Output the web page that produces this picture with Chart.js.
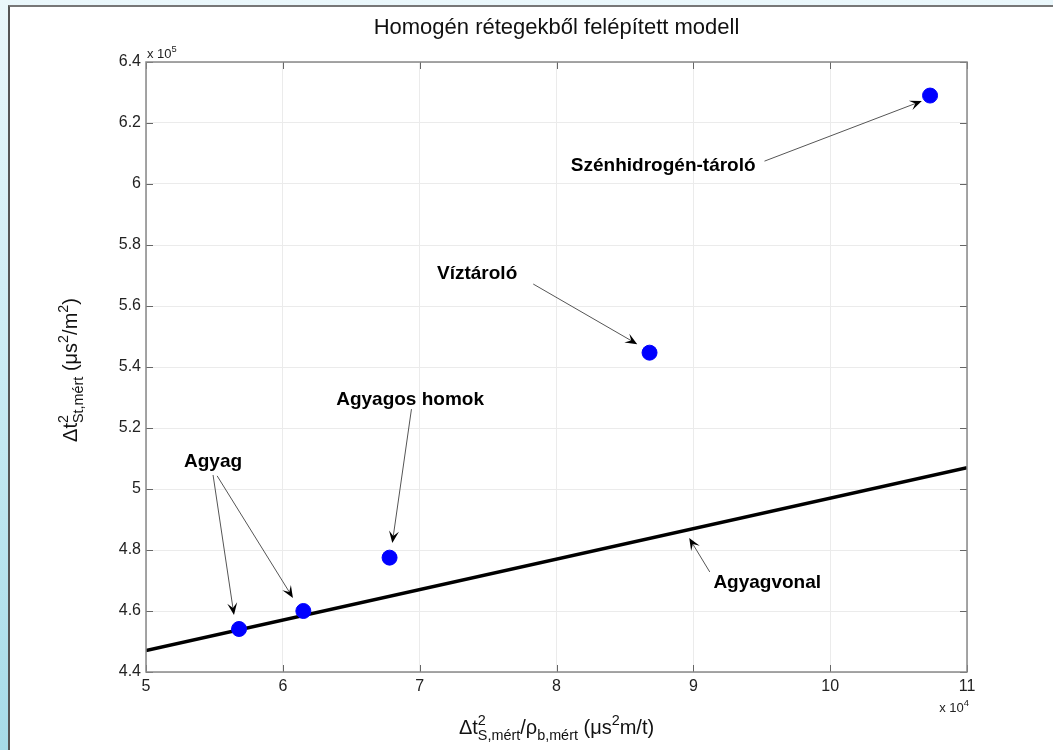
<!DOCTYPE html>
<html>
<head>
<meta charset="utf-8">
<title>Homogén rétegekből felépített modell</title>
<script src="https://cdn.jsdelivr.net/npm/chart.js@4"></script>
<style>
  html, body { margin: 0; padding: 0; }
  body {
    width: 1053px; height: 750px; overflow: hidden; position: relative;
    background: linear-gradient(180deg, #eaf7fb 0%, #c9ebf3 50%, #a6dbe8 100%);
  }
  #frame {
    position: absolute; left: 8px; top: 5px; right: 0; bottom: 0;
    background: #fff; border-left: 2px solid #555; border-top: 2px solid #777;
  }
  #wrap { position: absolute; left: 0; top: 0; width: 1053px; height: 750px; }
</style>
</head>
<body>
<div id="frame"></div>
<div id="wrap"><canvas id="chart" width="1053" height="750"></canvas></div>
<script>
// Measured layers: travel-time x / y values
const layerNames = ['Agyag', 'Agyag', 'Agyagos homok', 'Víztároló', 'Szénhidrogén-tároló'];
const layerX = [56800, 61500, 67800, 86800, 107300];
const layerY = [454100, 460000, 477500, 544700, 629000];

// Clay line end points
const clayLineX = [50000, 110000];
const clayLineY = [447000, 507000];

// Axis ranges and ticks
const xTicks = [50000, 60000, 70000, 80000, 90000, 100000, 110000];
const yTicks = [440000, 460000, 480000, 500000, 520000, 540000, 560000, 580000, 600000, 620000, 640000];

const FONT = 'Liberation Sans, Arial, sans-serif';

// Callout labels with their arrows (data coordinates)
const callouts = [
    { text: 'Szénhidrogén-tároló', at: [87800, 605900], arrows: [[[95200, 607500], [106700, 627200]]] },
    { text: 'Víztároló', at: [74200, 570500], arrows: [[[78300, 567200], [85900, 547500]]] },
    { text: 'Agyagos homok', at: [69300, 529200], arrows: [[[69400, 526200], [68000, 482300]]] },
    { text: 'Agyag', at: [54900, 508900], arrows: [
        [[54900, 504600], [56430, 458700]],
        [[55200, 504300], [60740, 464300]]
    ] },
    { text: 'Agyagvonal', at: [95400, 469200], arrows: [[[91200, 472800], [89700, 483900]]] }
];

// Draw a run of text pieces: n = normal, sup, sub, stack = sup over sub
function drawRich(ctx, parts, x, y, size) {
    let cx = x;
    parts.forEach(p => {
        if (p.stack) {
            ctx.font = `${size * 0.72}px ${FONT}`;
            const w1 = ctx.measureText(p.stack[0]).width;
            const w2 = ctx.measureText(p.stack[1]).width;
            ctx.fillText(p.stack[0], cx, y - size * 0.45);
            ctx.fillText(p.stack[1], cx, y + size * 0.32);
            cx += Math.max(w1, w2);
        } else if (p.sup) {
            ctx.font = `${size * 0.72}px ${FONT}`;
            ctx.fillText(p.sup, cx, y - size * 0.45);
            cx += ctx.measureText(p.sup).width;
        } else if (p.sub) {
            ctx.font = `${size * 0.72}px ${FONT}`;
            ctx.fillText(p.sub, cx, y + size * 0.32);
            cx += ctx.measureText(p.sub).width;
        } else {
            ctx.font = `${size}px ${FONT}`;
            ctx.fillText(p.n, cx, y);
            cx += ctx.measureText(p.n).width;
        }
    });
    return cx - x;
}

function richWidth(ctx, parts, size) {
    let w = 0;
    parts.forEach(p => {
        if (p.stack) {
            ctx.font = `${size * 0.72}px ${FONT}`;
            w += Math.max(ctx.measureText(p.stack[0]).width, ctx.measureText(p.stack[1]).width);
        } else if (p.sup || p.sub) {
            ctx.font = `${size * 0.72}px ${FONT}`;
            w += ctx.measureText(p.sup || p.sub).width;
        } else {
            ctx.font = `${size}px ${FONT}`;
            w += ctx.measureText(p.n).width;
        }
    });
    return w;
}

function drawArrow(ctx, x1, y1, x2, y2) {
    const ang = Math.atan2(y2 - y1, x2 - x1);
    const len = 12, half = 5, notch = 7;
    ctx.strokeStyle = '#555';
    ctx.lineWidth = 1;
    ctx.beginPath();
    ctx.moveTo(x1, y1);
    ctx.lineTo(x2 - Math.cos(ang) * notch, y2 - Math.sin(ang) * notch);
    ctx.stroke();
    ctx.save();
    ctx.translate(x2, y2);
    ctx.rotate(ang);
    ctx.fillStyle = '#000';
    ctx.beginPath();
    ctx.moveTo(0, 0);
    ctx.lineTo(-len, -half);
    ctx.lineTo(-notch, 0);
    ctx.lineTo(-len, half);
    ctx.closePath();
    ctx.fill();
    ctx.restore();
}

const decorPlugin = {
    id: 'decor',
    afterDraw(chart) {
        const ctx = chart.ctx;
        const { left, right, top, bottom } = chart.chartArea;
        const xs = chart.scales.x, ys = chart.scales.y;
        ctx.save();

        // inward tick marks on all four sides
        ctx.strokeStyle = '#666';
        ctx.lineWidth = 1;
        ctx.beginPath();
        xTicks.forEach(v => {
            const px = Math.round(xs.getPixelForValue(v)) + 0.5;
            ctx.moveTo(px, bottom); ctx.lineTo(px, bottom - 7);
            ctx.moveTo(px, top); ctx.lineTo(px, top + 7);
        });
        yTicks.forEach(v => {
            const py = Math.round(ys.getPixelForValue(v)) + 0.5;
            ctx.moveTo(left, py); ctx.lineTo(left + 7, py);
            ctx.moveTo(right, py); ctx.lineTo(right - 7, py);
        });
        ctx.stroke();

        // box
        ctx.strokeStyle = '#888';
        ctx.lineWidth = 1.5;
        ctx.strokeRect(left, top, right - left, bottom - top);

        // title
        ctx.fillStyle = '#111';
        ctx.textAlign = 'center';
        ctx.textBaseline = 'middle';
        ctx.font = `22px ${FONT}`;
        ctx.fillText('Homogén rétegekből felépített modell', (left + right) / 2, 28);

        // exponent markers
        ctx.textAlign = 'left';
        ctx.textBaseline = 'alphabetic';
        ctx.fillStyle = '#222';
        drawRich(ctx, [{ n: 'x 10' }, { sup: '5' }], left + 1, top - 4, 13);
        const w4 = richWidth(ctx, [{ n: 'x 10' }, { sup: '4' }], 13);
        drawRich(ctx, [{ n: 'x 10' }, { sup: '4' }], right + 2 - w4, 712, 13);

        // x axis title
        const xt = [{ n: 'Δt' }, { stack: ['2', 'S,mért'] }, { n: '/ρ' }, { sub: 'b,mért' }, { n: ' (μs' }, { sup: '2' }, { n: 'm/t)' }];
        const xw = richWidth(ctx, xt, 20);
        ctx.fillStyle = '#111';
        drawRich(ctx, xt, (left + right) / 2 - xw / 2, 734, 20);

        // y axis title
        const yt = [{ n: 'Δt' }, { stack: ['2', 'St,mért'] }, { n: ' (μs' }, { sup: '2' }, { n: '/m' }, { sup: '2' }, { n: ')' }];
        const yw = richWidth(ctx, yt, 20);
        ctx.save();
        ctx.translate(70, 370);
        ctx.rotate(-Math.PI / 2);
        drawRich(ctx, yt, -yw / 2, 7, 20);
        ctx.restore();

        // callouts
        callouts.forEach(c => {
            c.arrows.forEach(a => {
                drawArrow(ctx,
                    xs.getPixelForValue(a[0][0]), ys.getPixelForValue(a[0][1]),
                    xs.getPixelForValue(a[1][0]), ys.getPixelForValue(a[1][1]));
            });
            ctx.fillStyle = '#000';
            ctx.font = `bold 19px ${FONT}`;
            ctx.textAlign = 'center';
            ctx.textBaseline = 'middle';
            ctx.fillText(c.text, xs.getPixelForValue(c.at[0]), ys.getPixelForValue(c.at[1]));
        });
        ctx.restore();
    }
};

const fmt = (v, d) => String(parseFloat((v / d).toFixed(2)));

new Chart(document.getElementById('chart'), {
    type: 'scatter',
    data: {
        datasets: [{
            label: 'Agyagvonal',
            type: 'line',
            data: clayLineX.map((x, i) => ({ x, y: clayLineY[i] })),
            borderColor: '#000',
            borderWidth: 3.5,
            pointRadius: 0,
            fill: false,
            order: 2
        }, {
            label: 'Rétegek',
            data: layerX.map((x, i) => ({ x, y: layerY[i], name: layerNames[i] })),
            backgroundColor: '#0000ff',
            borderColor: '#0000ff',
            pointRadius: 7.5,
            order: 1
        }]
    },
    options: {
        responsive: false,
        animation: false,
        layout: { padding: { left: 0, right: 86, top: 62, bottom: 0 } },
        plugins: { legend: { display: false }, tooltip: { enabled: false } },
        scales: {
            x: {
                type: 'linear',
                min: 50000, max: 110000,
                afterBuildTicks: s => { s.ticks = xTicks.map(v => ({ value: v })); },
                afterFit: s => { s.height = 78; },
                grid: { color: '#ebebeb', drawTicks: false },
                border: { display: false },
                ticks: {
                    padding: 5,
                    color: '#222',
                    font: { family: FONT, size: 16 },
                    callback: v => fmt(v, 1e4)
                }
            },
            y: {
                type: 'linear',
                min: 440000, max: 640000,
                afterBuildTicks: s => { s.ticks = yTicks.map(v => ({ value: v })); },
                afterFit: s => { s.width = 146; },
                grid: { color: '#ebebeb', drawTicks: false },
                border: { display: false },
                ticks: {
                    padding: 5,
                    color: '#222',
                    font: { family: FONT, size: 16 },
                    callback: v => fmt(v, 1e5)
                }
            }
        }
    },
    plugins: [decorPlugin]
});
</script>
</body>
</html>
